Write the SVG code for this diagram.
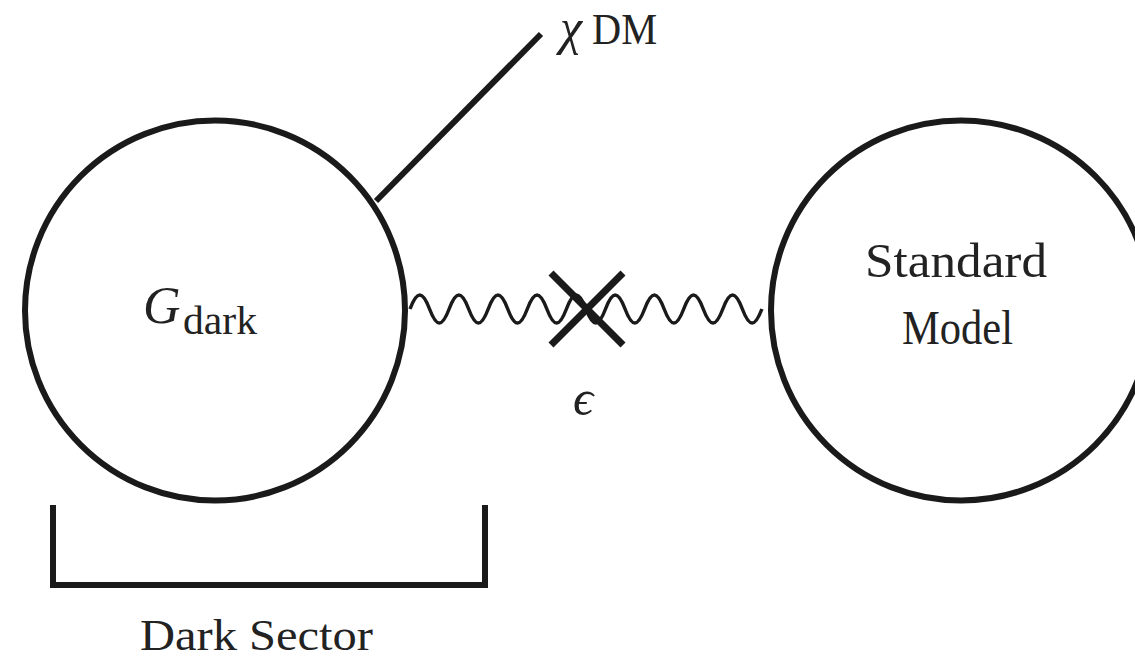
<svg xmlns="http://www.w3.org/2000/svg" width="1135" height="660" viewBox="0 0 1135 660">
<style>
.ln{fill:none;stroke:#1a1a1a;stroke-width:6}
.wave{fill:none;stroke:#1a1a1a;stroke-width:3.5}
.x{stroke:#1a1a1a;stroke-width:7}
.t{font-family:"Liberation Serif","DejaVu Serif",serif;fill:#222}
</style>
<rect width="1135" height="660" fill="#fff"/>
<g id="dark-node">
<circle class="ln" cx="215" cy="310.5" r="190"/>
<text class="t" x="143" y="323" font-size="52" font-style="italic">G</text>
<text class="t" x="183" y="334" font-size="39" textLength="74" lengthAdjust="spacingAndGlyphs">dark</text>
</g>
<g id="sm-node">
<circle class="ln" cx="961" cy="310.5" r="190"/>
<text class="t" x="865" y="277" font-size="48" textLength="182" lengthAdjust="spacingAndGlyphs">Standard</text>
<text class="t" x="902" y="344" font-size="48" textLength="111" lengthAdjust="spacingAndGlyphs">Model</text>
</g>
<g id="dm-label">
<text class="t" x="560" y="44" font-size="50" font-style="italic">χ</text>
<text class="t" x="592" y="44" font-size="45" textLength="65" lengthAdjust="spacingAndGlyphs">DM</text>
</g>
<g id="dark-sector">
<polyline class="ln" points="53,505 53,585 485,585 485,505"/>
<text class="t" x="140" y="650" font-size="45" textLength="233" lengthAdjust="spacingAndGlyphs">Dark Sector</text>
</g>
<g id="epsilon">
<text class="t" x="573" y="415" font-size="50" font-style="italic">ϵ</text>
</g>
<g id="connectors">
<line class="ln" x1="376" y1="201" x2="541" y2="34"/>
<path class="wave" d="M410,309 c7.04,-18.67 12.51,-18.67 19.55,0 c7.04,18.67 12.51,18.67 19.55,0 c7.04,-18.67 12.51,-18.67 19.55,0 c7.04,18.67 12.51,18.67 19.55,0 c7.04,-18.67 12.51,-18.67 19.55,0 c7.04,18.67 12.51,18.67 19.55,0 c7.04,-18.67 12.51,-18.67 19.55,0 c7.04,18.67 12.51,18.67 19.55,0 c7.04,-18.67 12.51,-18.67 19.55,0 c7.04,18.67 12.51,18.67 19.55,0 c7.04,-18.67 12.51,-18.67 19.55,0 c7.04,18.67 12.51,18.67 19.55,0 c7.04,-18.67 12.51,-18.67 19.55,0 c7.04,18.67 12.51,18.67 19.55,0 c7.04,-18.67 12.51,-18.67 19.55,0 c7.04,18.67 12.51,18.67 19.55,0 c7.04,-18.67 12.51,-18.67 19.55,0 c7.04,18.67 12.51,18.67 19.55,0"/>
<line class="x" x1="551" y1="273" x2="623" y2="345"/>
<line class="x" x1="551" y1="345" x2="623" y2="273"/>
</g>
</svg>
